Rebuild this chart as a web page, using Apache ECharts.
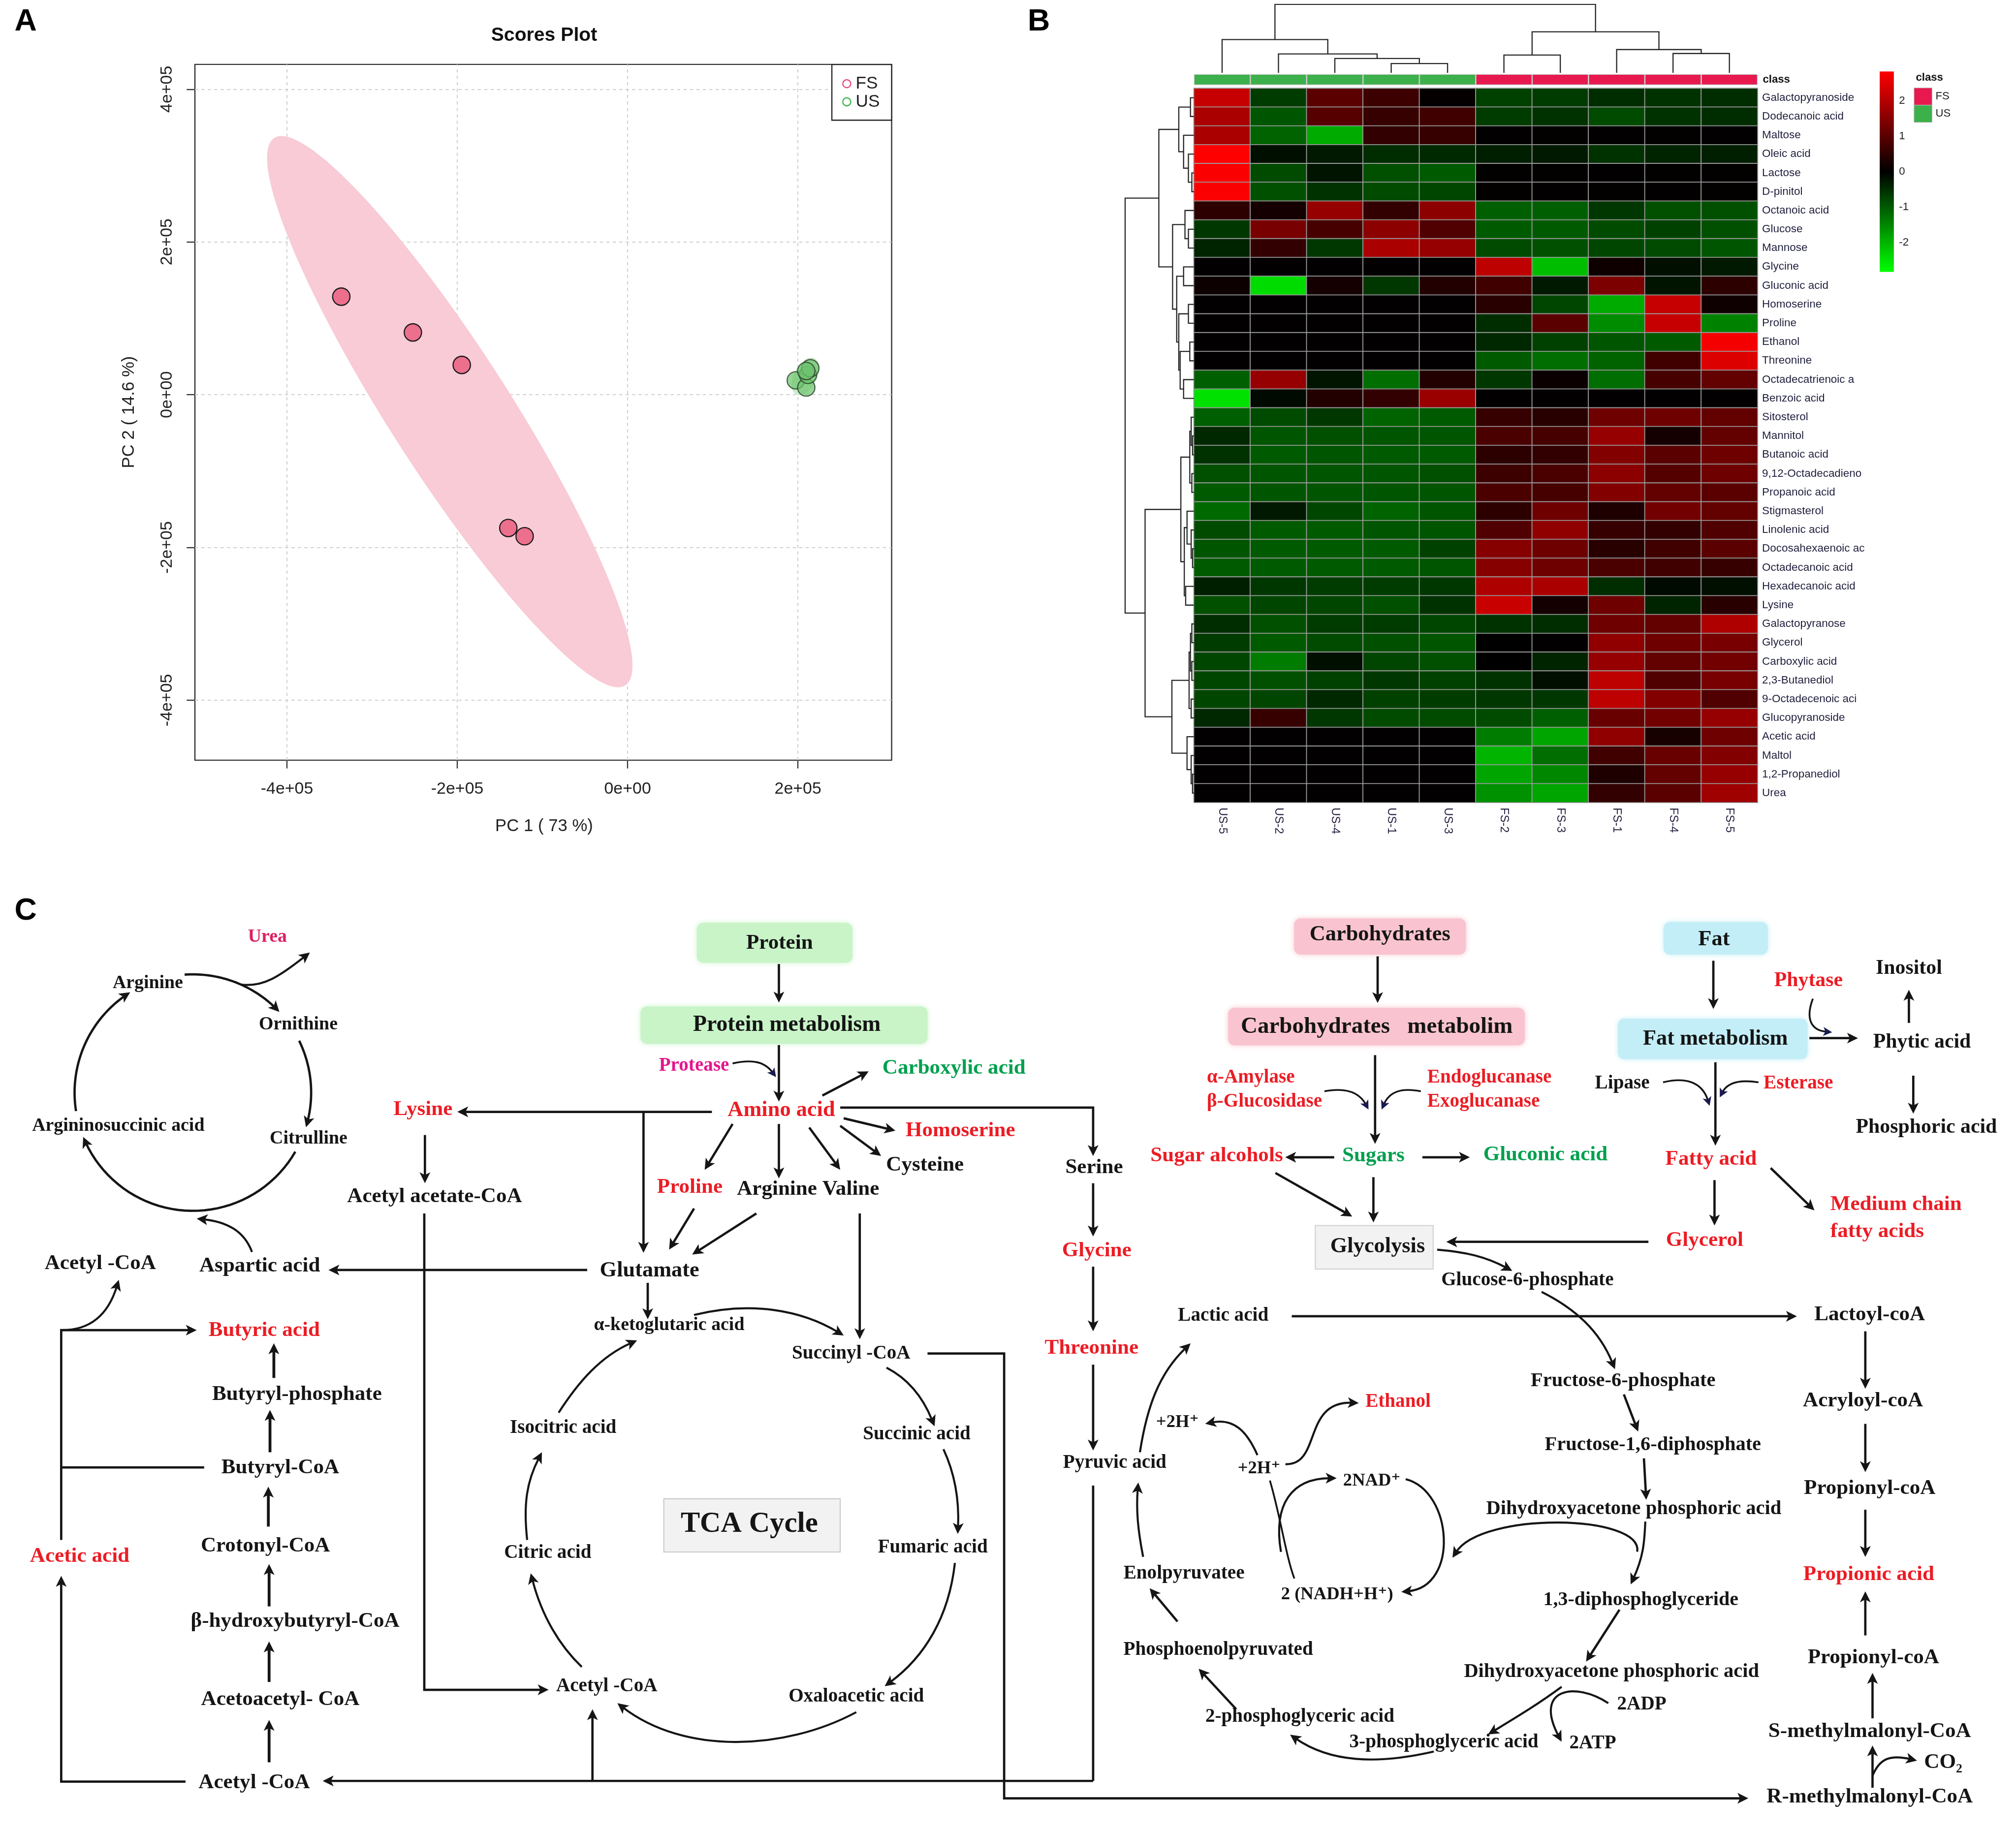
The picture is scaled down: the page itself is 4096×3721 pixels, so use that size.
<!DOCTYPE html>
<html><head><meta charset="utf-8">
<script src="https://cdn.jsdelivr.net/npm/echarts@6/dist/echarts.min.js"></script>
<style>html,body{margin:0;padding:0;background:#fff}#c{width:4096px;height:3721px}</style>
</head><body><div id="c"></div>
<script>
// ---------------- DATA ----------------
// Panel A: PCA scores
const fsPC1 = [-336180, -252135, -194738, -140075, -120943];
const fsPC2 = [128380, 81500, 38950, -174540, -185360];
const usPC1 = [197472, 209771, 211821, 214554, 209771];
const usPC2 = [18750, 9376, 25965, 34620, 31013];
const pc1Ticks = [-400000, -200000, 0, 200000];
const pc2Ticks = [-400000, -200000, 0, 200000, 400000];
// Panel B: heatmap
const sampleNames = ['US-5','US-2','US-4','US-1','US-3','FS-2','FS-3','FS-1','FS-4','FS-5'];
const sampleClass = ['US','US','US','US','US','FS','FS','FS','FS','FS'];
const metabolites = ['Galactopyranoside','Dodecanoic acid','Maltose','Oleic acid','Lactose','D-pinitol','Octanoic acid','Glucose','Mannose','Glycine','Gluconic acid','Homoserine','Proline','Ethanol','Threonine','Octadecatrienoic a','Benzoic acid','Sitosterol','Mannitol','Butanoic acid','9,12-Octadecadieno','Propanoic acid','Stigmasterol','Linolenic acid','Docosahexaenoic ac','Octadecanoic acid','Hexadecanoic acid','Lysine','Galactopyranose','Glycerol','Carboxylic acid','2,3-Butanediol','9-Octadecenoic aci','Glucopyranoside','Acetic acid','Maltol','1,2-Propanediol','Urea'];
const heatValues = [
 [2.2,-0.67,1.0,0.67,0.05,-0.72,-0.67,-0.5,-0.55,-0.5],
 [1.9,-0.95,0.95,0.6,0.72,-0.67,-0.55,-0.83,-0.55,-0.5],
 [1.9,-1.1,-1.9,0.55,0.6,0.02,0.03,0.02,0.03,0.02],
 [2.83,-0.17,-0.28,-0.5,-0.45,-0.33,-0.28,-0.55,-0.39,-0.33],
 [2.78,-0.83,-0.22,-0.89,-1.0,0.03,0.03,0.02,0.03,0.03],
 [2.78,-0.89,-0.55,-0.83,-0.78,0.03,0.02,0.03,0.02,0.03],
 [0.5,0.22,1.66,0.55,1.55,-1.05,-1.05,-0.61,-0.89,-0.89],
 [-0.61,1.33,0.78,1.55,0.89,-1.0,-1.0,-0.83,-0.72,-0.89],
 [-0.39,0.55,-0.61,1.9,1.66,-0.83,-0.89,-0.78,-0.83,-0.94],
 [0.02,0.02,0.02,0.02,0.02,2.1,-2.1,0.17,-0.17,-0.28],
 [0.13,-2.44,0.22,-0.61,0.39,0.72,-0.28,1.39,-0.22,0.5],
 [0.02,0.02,0.02,0.02,0.02,0.44,-0.78,-1.9,2.2,0.17],
 [0.02,0.02,0.02,0.02,0.02,-0.5,1.0,-1.55,2.2,-1.44],
 [0.02,0.02,0.02,0.02,0.02,-0.44,-0.72,-0.94,-1.0,2.72],
 [0.02,0.02,0.02,0.02,0.02,-1.0,-1.22,-1.1,0.72,2.44],
 [-1.05,1.66,-0.22,-1.22,0.39,-0.61,0.11,-1.22,0.78,1.1],
 [-2.5,-0.11,0.39,0.55,1.72,0.02,0.02,0.02,0.02,0.02],
 [-1.05,-0.83,-0.61,-1.1,-1.0,0.61,0.44,1.22,1.22,1.1],
 [-0.44,-0.94,-0.89,-0.94,-0.94,0.83,0.78,1.66,0.22,1.1],
 [-0.55,-1.0,-0.94,-1.0,-1.0,0.5,0.55,1.44,1.0,1.22],
 [-0.89,-0.94,-0.94,-0.94,-0.89,0.67,0.83,1.55,0.94,1.22],
 [-1.0,-0.94,-0.94,-0.94,-0.94,0.83,0.78,1.44,1.1,1.0],
 [-1.16,-0.28,-0.78,-1.1,-0.94,0.5,1.22,0.33,1.28,1.1],
 [-0.83,-1.0,-1.0,-0.94,-0.94,0.89,1.61,0.61,0.55,0.89],
 [-0.94,-1.0,-1.0,-1.0,-0.72,1.5,1.22,0.44,0.72,1.0],
 [-1.0,-1.0,-1.0,-1.0,-0.94,1.5,1.22,0.83,0.72,0.61],
 [-0.33,-0.61,-0.67,-0.67,-0.61,1.94,1.89,-0.5,-0.11,-0.17],
 [-0.89,-0.78,-0.78,-0.89,-0.55,2.22,0.22,1.22,-0.39,0.44],
 [-0.5,-0.89,-0.67,-0.67,-0.78,-0.55,-0.5,1.22,1.1,1.94],
 [-0.67,-1.0,-0.83,-0.89,-0.94,0.0,0.02,1.61,1.22,1.33],
 [-0.78,-1.39,-0.17,-0.78,-0.89,0.0,-0.39,1.66,1.1,1.28],
 [-0.78,-0.89,-0.72,-0.61,-0.72,-0.55,-0.17,2.1,0.89,1.33],
 [-0.78,-0.78,-0.44,-0.72,-0.67,-0.61,-0.61,2.1,1.44,0.89],
 [-0.44,0.61,-0.61,-0.83,-0.83,-0.83,-1.05,1.16,1.28,1.66],
 [0.02,0.02,0.02,0.02,0.02,-1.39,-1.83,1.61,0.28,1.22],
 [0.02,0.02,0.02,0.02,0.02,-2.0,-1.22,0.72,1.16,1.44],
 [0.02,0.02,0.02,0.02,0.02,-1.83,-1.5,0.33,1.1,1.66],
 [0.02,0.02,0.02,0.02,0.02,-1.61,-1.83,0.55,1.0,1.77]
];
const colorRange = [-2.83, 2.83];
const colorbarTicks = [2, 1, 0, -1, -2];
// dendrogram merges: [childA, childB, height] ; 'mN' refers to the N-th merge
const colMerges = [[3,4,0.136],[2,'m0',0.21],[1,'m1',0.276],[0,'m2',0.486],[5,6,0.26],[8,9,0.283],[7,'m5',0.34],['m4','m6',0.60],['m3','m7',1.0]];
const rowMerges = [[0,1,0.05],[4,5,0.03],[3,'m1',0.08],[2,'m2',0.15],['m0','m3',0.22],
 [7,8,0.08],[6,'m5',0.13],[9,10,0.15],[11,12,0.08],[13,14,0.06],[15,16,0.15],['m9','m10',0.20],['m8','m11',0.22],['m7','m12',0.25],['m6','m13',0.31],['m4','m14',0.51],
 [18,19,0.02],[17,'m16',0.04],[20,21,0.03],['m17','m18',0.06],[24,25,0.02],[23,'m20',0.04],[22,'m21',0.10],[26,27,0.12],['m22','m23',0.14],['m19','m24',0.19],
 [28,29,0.03],[30,31,0.03],['m26','m27',0.05],[32,33,0.04],['m28','m29',0.07],[36,37,0.02],[35,'m31',0.04],[34,'m32',0.10],['m30','m33',0.32],['m25','m34',0.71],['m15','m35',1.0]];

// ---------------- HELPERS ----------------
const S = 4096/1568;
const s = v => v*S;
const SERIF = '"Liberation Serif","DejaVu Serif",serif';
const SANS = '"Liberation Sans","DejaVu Sans",Arial,sans-serif';
const C_RED = '#EC1C24', C_GRN = '#00A04E', C_BLK = '#151515', C_UREA = '#DC1F62', C_PROT = '#E5168C';
const G = [];
function T(x,y,t,fs,c,o){ o=o||{}; const a=o.a||'center';
  G.push({type:'text',x:s(x),y:s(y),rotation:o.rot||0,z:10,silent:true,
    style:{text:t,fontFamily:o.ff||SERIF,fontWeight:o.fw||'bold',fontSize:s(fs),fill:c||C_BLK,textFill:c||C_BLK,
      align:a,textAlign:a,verticalAlign:'middle',textVerticalAlign:'middle'}}); }
function head(tip,from,o){ o=o||{}; const hl=o.hl||8.5, hw=o.hw||4.2;
  const dx=tip[0]-from[0], dy=tip[1]-from[1], L=Math.hypot(dx,dy)||1, ux=dx/L, uy=dy/L;
  const bx=tip[0]-ux*hl, by=tip[1]-uy*hl, nx=tip[0]-ux*hl*0.75, ny=tip[1]-uy*hl*0.75;
  const pts=[[tip[0],tip[1]],[bx-uy*hw,by+ux*hw],[nx,ny],[bx+uy*hw,by-ux*hw]];
  G.push({type:'polygon',z:6,silent:true,shape:{points:pts.map(p=>[s(p[0]),s(p[1])])},style:{fill:o.hc||o.c||C_BLK}}); }
function back(tip,from,d){ const dx=tip[0]-from[0], dy=tip[1]-from[1], L=Math.hypot(dx,dy)||1; return [tip[0]-dx/L*d, tip[1]-dy/L*d]; }
function A(pts,o){ o=o||{}; const q=pts.map(p=>p.slice()); const n=q.length; const hh=o.head!==false;
  if(hh) q[n-1]=back(pts[n-1],pts[n-2],(o.hl||8.5)*0.6);
  G.push({type:'polyline',z:5,silent:true,shape:{points:q.map(p=>[s(p[0]),s(p[1])])},style:{stroke:o.c||C_BLK,lineWidth:s(o.w||1.8),fill:'none'}});
  if(hh) head(pts[n-1],pts[n-2],o); }
function B(p0,c1,c2,p1,o){ o=o||{}; const hh=o.head!==false; let e=p1, cc=c2;
  if(hh){ e=back(p1,c2,(o.hl||8.5)*0.6); cc=[c2[0]-(p1[0]-e[0]), c2[1]-(p1[1]-e[1])]; }
  G.push({type:'bezierCurve',z:5,silent:true,shape:{x1:s(p0[0]),y1:s(p0[1]),cpx1:s(c1[0]),cpy1:s(c1[1]),cpx2:s(cc[0]),cpy2:s(cc[1]),x2:s(e[0]),y2:s(e[1])},style:{stroke:o.c||C_BLK,lineWidth:s(o.w||1.6),fill:'none'}});
  if(hh) head(p1,c2,o); }
function arcPts(cx,cy,r,a0,a1){ const out=[]; for(let i=0;i<=40;i++){ const a=(a0+(a1-a0)*i/40)*Math.PI/180; out.push([cx+r*Math.cos(a), cy+r*Math.sin(a)]);} return out; }
function box(x,y,w,h,fill,o){ o=o||{}; G.push({type:'rect',z:3,silent:true,shape:{x:s(x),y:s(y),width:s(w),height:s(h),r:s(o.r==null?5:o.r)},
  style:{fill:fill,stroke:o.stroke||null,lineWidth:s(o.lw||0.8),shadowBlur:o.blur==null?s(4):o.blur,shadowColor:o.sc||fill}}); }

// ---------------- PANEL A extras ----------------
T(20,17,'A',24,'#000',{ff:SANS});
T(808,17,'B',24,'#000',{ff:SANS});
T(20,709,'C',24,'#000',{ff:SANS});
T(423.2,27.8,'Scores Plot',15,'#111',{ff:SANS});
T(423.2,642.8,'PC 1 ( 73 %)',13.3,'#222',{ff:SANS,fw:'normal'});
T(100.5,320.6,'PC 2 ( 14.6 %)',13.3,'#222',{ff:SANS,fw:'normal',rot:Math.PI/2});
G.push({type:'rect',z:8,silent:true,shape:{x:s(647),y:s(50.2),width:s(46.5),height:s(43.3)},style:{fill:'#fff',stroke:'#222',lineWidth:s(0.9)}});
G.push({type:'circle',z:9,silent:true,shape:{cx:s(658.6),cy:s(65.1),r:s(3.1)},style:{fill:'none',stroke:'#E44A78',lineWidth:s(0.9)}});
G.push({type:'circle',z:9,silent:true,shape:{cx:s(658.6),cy:s(79.2),r:s(3.1)},style:{fill:'none',stroke:'#3CB44B',lineWidth:s(0.9)}});
T(665.5,65.3,'FS',13.5,'#222',{ff:SANS,fw:'normal',a:'left'});
T(665.5,79.4,'US',13.5,'#222',{ff:SANS,fw:'normal',a:'left'});

// ---------------- PANEL B extras ----------------
T(1371,62,'class',8.5,'#111',{ff:SANS,a:'left'});
const cbTop=55.6, cbBot=211.5;
G.push({type:'rect',z:8,silent:true,shape:{x:s(1462),y:s(cbTop),width:s(11),height:s(cbBot-cbTop)},
  style:{fill:{type:'linear',x:0,y:0,x2:0,y2:1,colorStops:[{offset:0,color:'#FF0000'},{offset:0.5,color:'#000000'},{offset:1,color:'#00FF00'}]}}});
colorbarTicks.forEach(v=>{ const y=cbTop+(colorRange[1]-v)/(colorRange[1]-colorRange[0])*(cbBot-cbTop); T(1477,y,String(v),8.5,'#222',{ff:SANS,fw:'normal',a:'left'}); });
T(1500.7,60.5,'class',8.5,'#111',{ff:SANS});
G.push({type:'rect',z:8,silent:true,shape:{x:s(1488.7),y:s(68.4),width:s(14),height:s(13.4)},style:{fill:'#E8194F',stroke:'#bbb',lineWidth:s(0.5)}});
G.push({type:'rect',z:8,silent:true,shape:{x:s(1488.7),y:s(81.8),width:s(14),height:s(13.4)},style:{fill:'#3CB04A',stroke:'#bbb',lineWidth:s(0.5)}});
T(1505.4,75,'FS',8.5,'#222',{ff:SANS,fw:'normal',a:'left'});
T(1505.4,88.5,'US',8.5,'#222',{ff:SANS,fw:'normal',a:'left'});

// ---------------- PANEL C ----------------
// urea cycle
T(208,729,'Urea',14.5,C_UREA);
T(115,765,'Arginine',14.5);
T(232,797,'Ornithine',14.5);
T(92,876,'Argininosuccinic acid',14.5);
T(240,886,'Citrulline',14.5);
A(arcPts(150,850,92,-94,-43));
A(arcPts(150,850,92,-26,17));
A(arcPts(150,850,92,30,158));
A(arcPts(150,850,92,171,238));
B([188,766],[205,768],[222,756],[241,741]);
B([196,974],[190,958],[172,950],[153,948]);
T(78,983,'Acetyl -CoA',16.5);
T(202,985,'Aspartic acid',16.5);
A([[456.7,988],[255.5,988]]);
T(329,863,'Lysine',16.5,C_RED);
A([[553.7,865],[355.7,865]]);
A([[500.5,865],[500.5,974.6]]);
A([[330.5,883],[330.5,920.5]]);
T(338,931,'Acetyl acetate-CoA',16.5);
A([[330,944],[330,1314.6],[426.7,1314.6]]);
// butyrate branch
A([[47.6,1198],[47.6,1034.8],[153,1034.8]]);
B([47.6,1034.8],[68,1035],[85,1020],[92.4,995.7]);
T(205.5,1035,'Butyric acid',16.5,C_RED);
A([[213,1072],[213,1045]],{w:2.2});
T(231,1085,'Butyryl-phosphate',16.5);
A([[210,1129.8],[210,1096.9]],{w:2.2});
T(218,1142,'Butyryl-CoA',16.5);
A([[158.8,1141.6],[47.6,1141.6]],{head:false});
A([[208.7,1187.6],[208.7,1156.6]],{w:2.2});
T(206.4,1202.7,'Crotonyl-CoA',16.5);
A([[209.3,1249.7],[209.3,1216.8]],{w:2.2});
T(229.5,1261.5,'β-hydroxybutyryl-CoA',16.5);
A([[209.3,1308.5],[209.3,1277]],{w:2.2});
T(218,1322,'Acetoacetyl- CoA',16.5);
A([[209.3,1371],[209.3,1338]],{w:2.2});
T(197.7,1387,'Acetyl -CoA',16.5);
A([[144.3,1386],[47.6,1386],[47.6,1226]]);
T(62,1210.7,'Acetic acid',16.5,C_RED);
A([[850.2,1385.5],[251,1385.5]]);
A([[460.8,1385.5],[460.8,1329.7]]);
A([[850.2,1155.7],[850.2,1385.5]],{head:false});
// protein
box(542,718,121,31,'#C8F4C8'); T(606.3,733.7,'Protein',16.5);
A([[605.8,750],[605.8,780]]);
box(498.2,783,223.2,29,'#C8F4C8'); T(612,797.5,'Protein metabolism',17.5);
A([[605.8,813],[605.8,857]]);
T(539.8,829.2,'Protease',15,C_PROT);
B([569.8,827.3],[585,824],[597,829],[603.6,838],{w:1.4,hc:'#1a1a50',hl:7,hw:3.5});
T(742,831,'Carboxylic acid',16.5,C_GRN);
A([[639.6,852.3],[675.6,833.5]]);
T(607.7,864,'Amino acid',17,C_RED);
A([[569.8,874.4],[548.1,910]]);
A([[605.8,874.4],[605.8,916.7]]);
A([[629.4,877.2],[653.5,910]]);
A([[656.2,870],[696.4,879.6]]);
A([[653.5,875.8],[685.3,899.3]]);
T(747,879.6,'Homoserine',16.5,C_RED);
T(719.4,906.4,'Cysteine',16.5);
A([[653.5,861.7],[850.2,861.7],[850.2,899.3]]);
T(851,908.5,'Serine',16.5);
T(536.5,923.8,'Proline',16.5,C_RED);
T(628.5,925.2,'Arginine Valine',16.5);
A([[539.8,940.2],[520.4,972.2]]);
A([[588.3,944],[538.4,976]]);
A([[668.7,944],[668.7,1041.8]]);
T(505.2,988.7,'Glutamate',17);
A([[503.8,998],[503.8,1026.3]]);
T(520.4,1031,'α-ketoglutaric acid',14.5);
B([539.8,1023],[585,1012],[628,1022],[656.2,1039]);
T(662,1053,'Succinyl -CoA',15);
B([689.5,1064],[705,1072],[719,1090],[726.9,1109.6]);
T(713,1115.7,'Succinic acid',15);
B([733.8,1127.4],[742,1145],[746,1170],[744.9,1193.3]);
T(725.5,1204,'Fumaric acid',15);
B([742.7,1215.9],[738,1258],[715,1292],[688.1,1311.8]);
T(666,1320,'Oxaloacetic acid',15);
B([666,1332],[610,1362],[528,1362],[480.2,1325]);
T(471.9,1311.8,'Acetyl -CoA',15);
B([452.5,1296.8],[435,1280],[420,1252],[412.8,1223.9]);
T(426,1208,'Citric acid',15);
B([410,1198],[407,1170],[412,1148],[421.5,1129.8]);
T(438,1111,'Isocitric acid',15);
B([434.5,1099],[450,1075],[472,1053],[495.5,1042.8]);
box(516.3,1166,137.2,41.4,'#F2F2F2',{r:0,stroke:'#C8C8C8',blur:0});
T(582.8,1186,'TCA Cycle',22.5);
A([[721.4,1053],[781,1053],[781,1399],[1359.8,1399]]);
A([[850.2,920.5],[850.2,961.9]]);
T(853,973,'Glycine',16.5,C_RED);
A([[850.2,985.4],[850.2,1035.7]]);
T(849,1049,'Threonine',16.5,C_RED);
A([[850.2,1061.6],[850.2,1128.4]]);
T(867,1138,'Pyruvic acid',15);
// carbohydrates
box(1006.5,714.5,133.6,28.2,'#F9C4CF'); T(1073.3,727,'Carbohydrates',17);
A([[1071.5,744],[1071.5,780.3]]);
box(955.2,784,230.7,29.2,'#F9C4CF'); T(1070.8,799,'Carbohydrates   metabolim',18);
A([[1069.5,820.8],[1069.5,889.9]]);
T(938.7,838.2,'α-Amylase',15,C_RED,{a:'left'});
T(938.7,857,'β-Glucosidase',15,C_RED,{a:'left'});
T(1110.1,838.2,'Endoglucanase',15,C_RED,{a:'left'});
T(1110.1,857,'Exoglucanase',15,C_RED,{a:'left'});
B([1030.1,849],[1046,846],[1059,853],[1064.4,863.1],{w:1.4,hc:'#1a1a50',hl:7,hw:3.5});
B([1105.1,849],[1090,846],[1079,853],[1074.6,863.1],{w:1.4,hc:'#1a1a50',hl:7,hw:3.5});
T(1068.2,899.3,'Sugars',16.5,C_GRN);
A([[1037.7,900.3],[999.6,900.3]]);
T(946.3,899.3,'Sugar alcohols',16.5,C_RED);
A([[1106.3,900.3],[1143.2,900.3]]);
T(1202,898.5,'Gluconic acid',16.5,C_GRN);
A([[992,912.5],[1051.7,946.4]]);
A([[1068.2,915.8],[1068.2,951]]);
box(1023,953.4,91.7,33.9,'#F2F2F2',{r:0,stroke:'#D0D0D0',blur:0});
T(1071.5,970,'Glycolysis',17);
A([[1282.1,966.1],[1124.9,966.1]]);
B([1117.8,972.2],[1140,974],[1160,980],[1176.2,988.7]);
T(1188,996,'Glucose-6-phosphate',15);
T(951.4,1023.5,'Lactic acid',15);
A([[1004.7,1024],[1397.6,1024]]);
B([886.6,1129.8],[892,1095],[905,1065],[926,1045.1]);
T(915.8,1106.5,'+2H⁺',14);
T(979.3,1142.5,'+2H⁺',14);
B([978,1132],[970,1114],[955,1104],[937.4,1107.7]);
B([999.8,1139.1],[1028,1140],[1018,1090],[1056.8,1091.5]);
T(1087.4,1090.5,'Ethanol',15,C_RED);
T(1067,1152,'2NAD⁺',14);
T(1040,1240.5,'2 (NADH+H⁺)',14);
B([987.7,1151.8],[996,1180],[1000,1210],[1006.7,1228],{head:false,w:1.4});
B([996.3,1207.3],[990,1170],[1010,1150],[1039.6,1150]);
B([1093.3,1150.7],[1130,1160],[1130,1235],[1089.9,1238.4]);
B([1273.4,1207.2],[1278,1178],[1150,1180],[1129.7,1211.9]);
T(920.9,1224,'Enolpyruvatee',15);
B([889.1,1211.2],[885,1190],[884,1170],[885.3,1153.3]);
T(947.5,1283.5,'Phosphoenolpyruvated',15);
A([[915.8,1261.5],[894.2,1235.6]]);
T(1011,1335.5,'2-phosphoglyceric acid',15);
A([[961.5,1329.7],[932.3,1298.2]]);
T(1123,1355.5,'3-phosphoglyceric acid',15);
B([1115.2,1362.6],[1070,1373],[1030,1368],[1003.4,1349.5]);
T(1262.4,1074.4,'Fructose-6-phosphate',15.5);
B([1199,1005],[1225,1018],[1246,1040],[1256.1,1065.2]);
A([[1263,1084.8],[1274.1,1113.7]]);
T(1285.6,1124.1,'Fructose-1,6-diphosphate',15.5);
A([[1278.6,1134.5],[1280.4,1166.8]]);
T(1270.7,1173.8,'Dihydroxyacetone phosphoric acid',15.5);
B([1279.7,1183.7],[1279,1200],[1276,1216],[1268.3,1232.6]);
T(1276.2,1244.9,'1,3-diphosphoglyceride',15.3);
A([[1259.6,1252.3],[1233.6,1292.7]]);
T(1253.4,1300.8,'Dihydroxyacetone phosphoric acid',15.5);
B([1214.6,1312.3],[1196,1326],[1176,1338],[1157.4,1349.3]);
B([1250.9,1325],[1225,1308],[1195,1318],[1214.6,1355]);
T(1276.9,1326.2,'2ADP',15);
T(1238.8,1356.2,'2ATP',15);
// fat
box(1293.9,717.3,81.1,25.4,'#C3EEF7'); T(1333.1,731,'Fat',17);
A([[1332.6,747.4],[1332.6,785]]);
box(1258.4,792.5,147.5,31.5,'#C3EEF7'); T(1334.2,808.5,'Fat metabolism',17);
T(1406.6,762.9,'Phytase',16,C_RED);
B([1410,777],[1404,793],[1413,802],[1425,803],{w:1.4,hc:'#1a1a50',hl:7,hw:3.5});
A([[1407.3,807.6],[1445.1,807.6]]);
T(1484.7,753.5,'Inositol',16);
A([[1484.7,795.8],[1484.7,770]]);
T(1494.9,810.9,'Phytic acid',16);
A([[1488.1,836.8],[1488.1,866.4]]);
T(1498.3,877.2,'Phosphoric acid',16);
T(1261.8,842.9,'Lipase',15);
B([1293.5,842],[1310,838],[1325,845],[1329.7,860.3],{w:1.4,hc:'#1a1a50',hl:7,hw:3.5});
T(1398.7,842.9,'Esterase',15,C_RED);
B([1367.7,842],[1355,840],[1342,845],[1337.6,853.7],{w:1.4,hc:'#1a1a50',hl:7,hw:3.5});
A([[1334.2,826.4],[1334.2,891.3]]);
T(1330.8,901.7,'Fatty acid',16.5,C_RED);
A([[1333.5,918.1],[1333.5,953.4]]);
A([[1377.2,908.7],[1411.2,941.6]]);
T(1423.6,937,'Medium chain',16.5,C_RED,{a:'left'});
T(1423.6,958,'fatty acids',16.5,C_RED,{a:'left'});
T(1325.8,965.2,'Glycerol',16.5,C_RED);
T(1454.2,1023,'Lactoyl-coA',16.5);
A([[1450.8,1035.7],[1450.8,1080.4]]);
T(1449,1089.8,'Acryloyl-coA',16.5);
A([[1450.8,1107.7],[1450.8,1145.3]]);
T(1454.2,1158,'Propionyl-coA',16.5);
A([[1450.8,1174.5],[1450.8,1211.2]]);
T(1453.5,1224.8,'Propionic acid',16.5,C_RED);
A([[1450.8,1272.3],[1450.8,1238]]);
T(1457.1,1289.7,'Propionyl-coA',16.5);
A([[1456.4,1336.8],[1456.4,1301.5]]);
T(1454.2,1347.1,'S-methylmalonyl-CoA',16.5);
A([[1456.4,1390.8],[1456.4,1357.9]]);
B([1456.4,1381.4],[1462,1368],[1475,1366],[1491,1369.7]);
T(1511.4,1371,'CO₂',16.5);
T(1454.2,1397.9,'R-methylmalonyl-CoA',16.5);

// ---------------- DERIVED ----------------
function ellipse(xs,ys){ const n=xs.length, mx=xs.reduce((a,b)=>a+b)/n, my=ys.reduce((a,b)=>a+b)/n;
  let sxx=0,syy=0,sxy=0; for(let i=0;i<n;i++){ sxx+=(xs[i]-mx)**2; syy+=(ys[i]-my)**2; sxy+=(xs[i]-mx)*(ys[i]-my);} 
  const sx=Math.sqrt(sxx/(n-1)), sy=Math.sqrt(syy/(n-1)), r=sxy/(n-1)/(sx*sy), d=Math.acos(r), t=Math.sqrt(-2*Math.log(0.05));
  const pts=[]; for(let k=0;k<120;k++){ const a=k/120*2*Math.PI; pts.push([mx+t*sx*Math.cos(a+d/2), my+t*sy*Math.cos(a-d/2)]);} return {c:[mx,my],pts}; }
const fsEll = ellipse(fsPC1, fsPC2), usEll = ellipse(usPC1, usPC2);
function dendro(merges){ const nodes=[], segs=[];
  const pos=k=> typeof k==='number' ? [k,0] : nodes[+k.slice(1)];
  merges.forEach(([a,b,h])=>{ const pa=pos(a), pb=pos(b); segs.push([[pa[0],pa[1]],[pa[0],h],[pb[0],h],[pb[0],pb[1]]]); nodes.push([(pa[0]+pb[0])/2,h]); });
  return segs; }
const colSegs = dendro(colMerges);
const rowSegs = dendro(rowMerges).map(seg=>seg.map(p=>[p[1],p[0]]));
const heatData=[]; heatValues.forEach((row,ri)=>row.forEach((v,ci)=>heatData.push([ci,ri,v])));
const sci = v => v===0 ? '0e+00' : (v<0?'-':'')+Math.abs(v/1e5)+'e+05';

const hmL=928.6, hmW=438.4, hmT=68.7, hmH=555.6;
const option = {
  animation:false, backgroundColor:'#fff',
  grid:[
    {left:s(151.6),top:s(50.1),width:s(541.9),height:s(541.3),show:true,borderColor:'#333',borderWidth:s(0.95),backgroundColor:'transparent',outerBoundsMode:'none'},
    {left:s(hmL),top:s(hmT),width:s(hmW),height:s(hmH),outerBoundsMode:'none'},
    {left:s(hmL),top:s(57.7),width:s(hmW),height:s(8.5),outerBoundsMode:'none'},
    {left:s(hmL),top:s(3.4),width:s(hmW),height:s(53.3),outerBoundsMode:'none'},
    {left:s(875.1),top:s(hmT),width:s(53.5),height:s(hmH),outerBoundsMode:'none'}
  ],
  xAxis:[
    {type:'value',gridIndex:0,min:-508075,max:310038,axisLine:{show:false,onZero:false},splitLine:{show:false},
     axisTick:{show:true,customValues:pc1Ticks,length:s(6.4),lineStyle:{color:'#333',width:s(0.9)}},
     axisLabel:{customValues:pc1Ticks,formatter:sci,margin:s(16),fontSize:s(13),color:'#222',fontFamily:SANS}},
    {type:'category',gridIndex:1,data:sampleNames,position:'bottom',axisLine:{show:false},axisTick:{show:false},splitLine:{show:false},
     axisLabel:{rotate:-90,margin:s(4),fontSize:s(9),color:'#2a2040',fontFamily:SANS}},
    {type:'category',gridIndex:2,data:sampleNames,show:false},
    {type:'value',gridIndex:3,min:-0.5,max:9.5,show:false},
    {type:'value',gridIndex:4,min:0,max:1,inverse:true,show:false}
  ],
  yAxis:[
    {type:'value',gridIndex:0,min:-478620,max:432492,axisLine:{show:false,onZero:false},splitLine:{show:false},
     axisTick:{show:true,customValues:pc2Ticks,length:s(6.4),lineStyle:{color:'#333',width:s(0.9)}},
     axisLabel:{customValues:pc2Ticks,formatter:sci,rotate:90,margin:s(15),fontSize:s(13),color:'#222',fontFamily:SANS}},
    {type:'category',gridIndex:1,data:metabolites,inverse:true,position:'right',axisLine:{show:false},axisTick:{show:false},splitLine:{show:false},
     axisLabel:{margin:s(3.5),fontSize:s(8.6),color:'#1e1e3c',fontFamily:SANS}},
    {type:'value',gridIndex:2,min:0,max:1,show:false},
    {type:'value',gridIndex:3,min:0,max:1,show:false},
    {type:'value',gridIndex:4,min:-0.5,max:37.5,inverse:true,show:false}
  ],
  visualMap:{type:'continuous',show:false,min:colorRange[0],max:colorRange[1],dimension:2,seriesIndex:5,inRange:{color:['#00FF00','#000000','#FF0000']}},
  series:[
    {type:'custom',xAxisIndex:0,yAxisIndex:0,z:1,silent:true,data:[fsEll.c],
     renderItem:(p,api)=>({type:'polygon',shape:{points:fsEll.pts.map(q=>api.coord(q))},style:{fill:'#F8CBD6'}})},
    {type:'custom',xAxisIndex:0,yAxisIndex:0,z:1,silent:true,data:[usEll.c],
     renderItem:(p,api)=>({type:'polygon',shape:{points:usEll.pts.map(q=>api.coord(q))},style:{fill:'#CDEBCB'}})},
    {type:'line',xAxisIndex:0,yAxisIndex:0,data:[],silent:true,
     markLine:{z:0,silent:true,symbol:['none','none'],label:{show:false},animation:false,
       lineStyle:{color:'#cfcfcf',type:[s(2.5),s(2.5)],width:s(0.8)},
       data:[...pc1Ticks.map(v=>({xAxis:v})),...pc2Ticks.map(v=>({yAxis:v}))]}},
    {type:'scatter',xAxisIndex:0,yAxisIndex:0,z:3,symbolSize:s(13.5),data:fsPC1.map((x,i)=>[x,fsPC2[i]]),
     itemStyle:{color:'#EC6F8E',borderColor:'#1a1a1a',borderWidth:s(0.9),opacity:1}},
    {type:'scatter',xAxisIndex:0,yAxisIndex:0,z:3,symbolSize:s(13.5),data:usPC1.map((x,i)=>[x,usPC2[i]]),
     itemStyle:{color:'rgba(108,196,108,0.9)',borderColor:'#2a3f2a',borderWidth:s(0.9)}},
    {type:'heatmap',xAxisIndex:1,yAxisIndex:1,data:heatData,silent:true,progressive:0,
     itemStyle:{borderColor:'#9c9c9c',borderWidth:s(0.7)},emphasis:{disabled:true}},
    {type:'bar',xAxisIndex:2,yAxisIndex:2,barWidth:'100%',silent:true,
     data:sampleClass.map(c=>({value:1,itemStyle:{color:c==='FS'?'#E8194F':'#3CB04A'}})),
     itemStyle:{borderColor:'#c8c8c8',borderWidth:s(0.5)}},
    {type:'lines',coordinateSystem:'cartesian2d',xAxisIndex:3,yAxisIndex:3,polyline:true,silent:true,
     lineStyle:{color:'#262626',width:s(0.9),opacity:1},data:colSegs.map(c=>({coords:c}))},
    {type:'lines',coordinateSystem:'cartesian2d',xAxisIndex:4,yAxisIndex:4,polyline:true,silent:true,
     lineStyle:{color:'#262626',width:s(0.9),opacity:1},data:rowSegs.map(c=>({coords:c}))}
  ],
  graphic:{elements:G}
};
const chart = echarts.init(document.getElementById('c'), null, {renderer:'canvas'});
chart.setOption(option);
</script>
</body></html>
